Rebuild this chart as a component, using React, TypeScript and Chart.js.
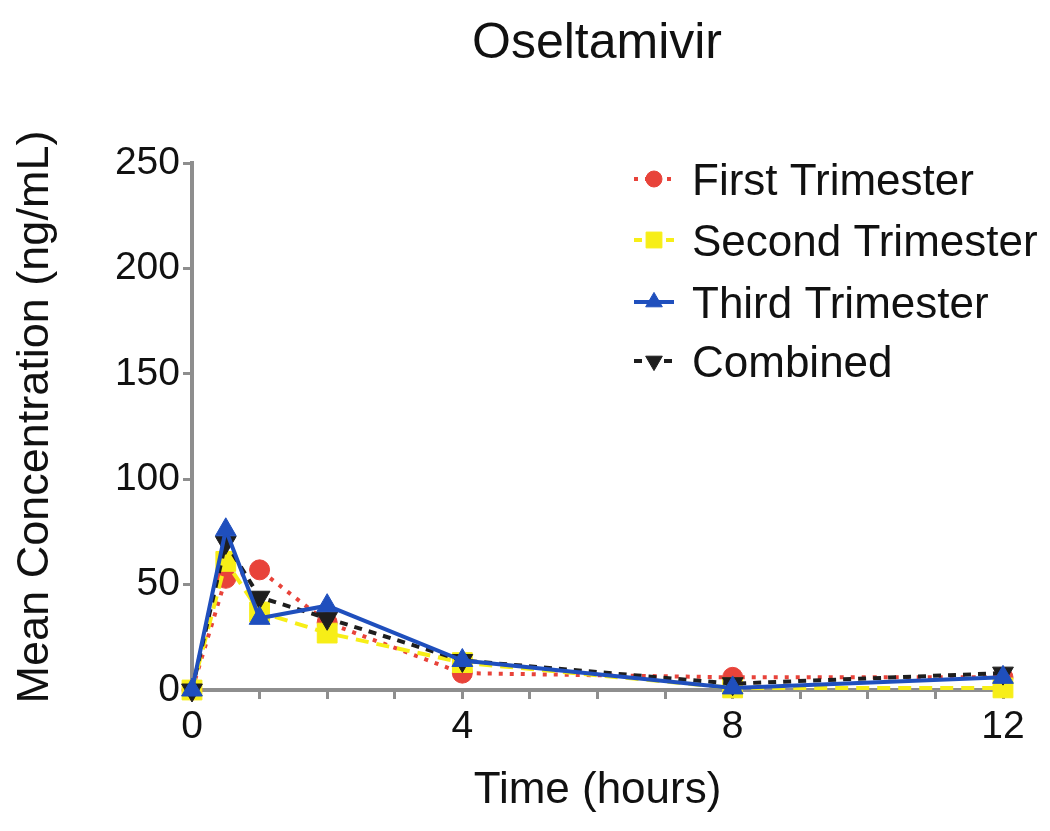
import React, { useEffect, useRef } from 'react';
import { Chart, registerables } from 'chart.js';
import { drawPoint } from 'chart.js/helpers';

Chart.register(...registerables);

const TITLE = 'Oseltamivir';
const X_TITLE = 'Time (hours)';
const Y_TITLE = 'Mean Concentration (ng/mL)';

const TIMES = [0, 0.5, 1, 2, 4, 8, 12];
const FIRST = [0, 53, 57, 32, 8, 6, 6];
const SECOND = [0, 61, 37, 27, 13, 1, 1];
const THIRD = [0, 76, 34, 40, 14, 1, 6];
const COMBINED = [0, 70, 44, 34, 14, 3, 8];
const SERIES_LABELS = ['First Trimester', 'Second Trimester', 'Third Trimester', 'Combined'];
const X_LABELED_TICKS = [0, 4, 8, 12];

const FONT = '"Liberation Sans", Arial, Helvetica, sans-serif';
const AXIS_GRAY = '#8e8e8e';

const STYLES = [
  { color: '#e8433a', dash: [4, 7], width: 4, point: 'circle', radius: 10, rotation: 0, order: 4 },
  { color: '#f7ee17', dash: [13, 8], width: 4, point: 'rect', radius: 14, rotation: 0, order: 3 },
  { color: '#1f4fbd', dash: [], width: 4, point: 'triangle', radius: 12, rotation: 0, order: 1 },
  { color: '#1e1e1e', dash: [8, 7], width: 4, point: 'triangle', radius: 12, rotation: 180, order: 2 },
];

const SERIES = [FIRST, SECOND, THIRD, COMBINED];

const legendPlugin = {
  id: 'customLegend',
  afterDraw(chart: any) {
    const ctx = chart.ctx;
    ctx.save();
    // Title
    ctx.fillStyle = '#111';
    ctx.font = `50px ${FONT}`;
    ctx.textAlign = 'center';
    ctx.textBaseline = 'alphabetic';
    ctx.fillText(TITLE, 597, 58);

    // Y axis title
    ctx.save();
    ctx.translate(36, 417);
    ctx.rotate(-Math.PI / 2);
    ctx.font = `45px ${FONT}`;
    ctx.textAlign = 'center';
    ctx.textBaseline = 'middle';
    ctx.fillText(Y_TITLE, 0, 0);
    ctx.restore();

    const baselines = [195, 256, 318, 377];
    SERIES_LABELS.forEach((label, i) => {
      const s = STYLES[i];
      const cy = baselines[i] - 16;
      ctx.save();
      ctx.strokeStyle = s.color;
      ctx.lineWidth = s.width;
      ctx.setLineDash(s.dash.length ? [Math.min(s.dash[0], 8), s.dash[1]] : []);
      ctx.beginPath();
      ctx.moveTo(634, cy);
      ctx.lineTo(674, cy);
      ctx.stroke();
      ctx.setLineDash([]);
      ctx.fillStyle = s.color;
      ctx.strokeStyle = s.color;
      ctx.lineWidth = 1;
      drawPoint(ctx, { pointStyle: s.point, radius: s.radius * 0.8, rotation: s.rotation, borderWidth: 1 }, 654, cy);
      ctx.restore();
      ctx.fillStyle = '#111';
      ctx.font = `44px ${FONT}`;
      ctx.textAlign = 'left';
      ctx.textBaseline = 'alphabetic';
      ctx.fillText(label, 692, baselines[i]);
    });
    ctx.restore();
  },
};

export default function App() {
  const ref = useRef<HTMLCanvasElement | null>(null);

  useEffect(() => {
    document.body.style.margin = '0';
    const canvas = ref.current;
    if (!canvas) return;
    const chart = new Chart(canvas, {
      type: 'line',
      data: {
        datasets: SERIES.map((vals, i) => ({
          label: SERIES_LABELS[i],
          data: TIMES.map((t, j) => ({ x: t, y: vals[j] })),
          borderColor: STYLES[i].color,
          backgroundColor: STYLES[i].color,
          borderWidth: STYLES[i].width,
          borderDash: STYLES[i].dash,
          pointStyle: STYLES[i].point as any,
          pointRadius: STYLES[i].radius,
          pointRotation: STYLES[i].rotation,
          pointBackgroundColor: STYLES[i].color,
          pointBorderColor: STYLES[i].color,
          pointBorderWidth: 1,
          tension: 0,
          fill: false,
          clip: false as any,
          order: STYLES[i].order,
        })),
      },
      options: {
        responsive: false,
        animation: false,
        devicePixelRatio: 1,
        layout: { padding: { left: 0, top: 163, right: 47, bottom: 0 } },
        plugins: {
          legend: { display: false },
          title: { display: false },
          tooltip: { enabled: false },
        },
        scales: {
          x: {
            type: 'linear',
            min: 0,
            max: 12,
            afterFit: (scale: any) => { scale.height = 141; },
            border: { display: true, color: AXIS_GRAY, width: 4 },
            grid: {
              display: true,
              drawOnChartArea: false,
              drawTicks: true,
              tickLength: 9,
              tickWidth: 3,
              tickColor: AXIS_GRAY,
            },
            ticks: {
              stepSize: 1,
              autoSkip: false,
              maxRotation: 0,
              padding: 5,
              color: '#111',
              font: { family: FONT, size: 39 },
              callback: (v: any) => (X_LABELED_TICKS.includes(Number(v)) ? String(v) : ''),
            },
            title: {
              display: true,
              text: X_TITLE,
              color: '#111',
              font: { family: FONT, size: 44 },
              padding: { top: 0, bottom: 14 },
            },
          },
          y: {
            type: 'linear',
            min: 0,
            max: 250,
            afterFit: (scale: any) => { scale.width = 192; },
            border: { display: true, color: AXIS_GRAY, width: 4 },
            grid: {
              display: true,
              drawOnChartArea: false,
              drawTicks: true,
              tickLength: 9,
              tickWidth: 3,
              tickColor: AXIS_GRAY,
            },
            ticks: {
              stepSize: 50,
              padding: 3,
              color: '#111',
              font: { family: FONT, size: 39 },
            },
            title: { display: false },
          },
        },
      },
      plugins: [legendPlugin],
    });
    return () => chart.destroy();
  }, []);

  return (
    <div style={{ width: 1050, height: 831, background: '#fff' }}>
      <canvas ref={ref} width={1050} height={831} style={{ display: 'block', width: 1050, height: 831 }} />
    </div>
  );
}
